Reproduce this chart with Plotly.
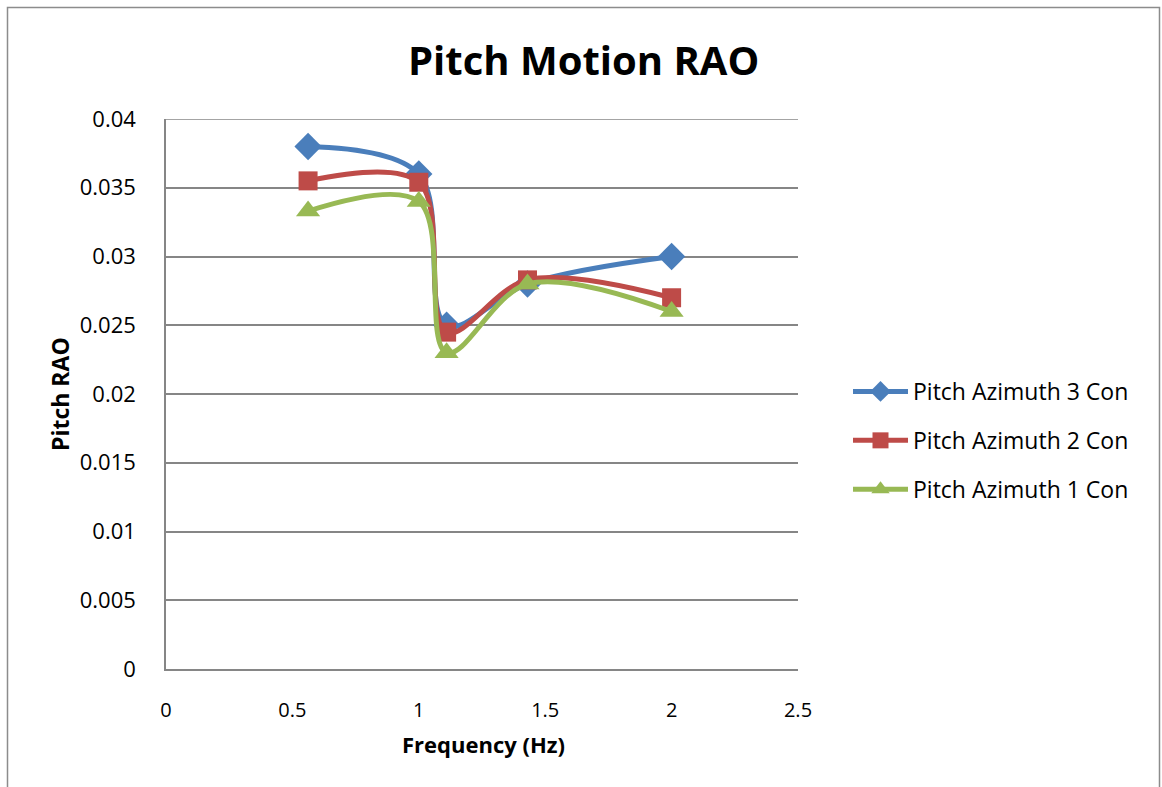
import plotly.graph_objects as go

# Frequencies (Hz) and pitch RAO values for each azimuth configuration
frequency = [0.562, 1.0, 1.11, 1.43, 2.0]
pitch_az3 = [0.0380, 0.0360, 0.0250, 0.0280, 0.0300]
pitch_az2 = [0.0355, 0.0354, 0.0245, 0.0283, 0.0270]
pitch_az1 = [0.0333, 0.0340, 0.0230, 0.0280, 0.0260]

series_names = ["Pitch Azimuth 3 Con", "Pitch Azimuth 2 Con", "Pitch Azimuth 1 Con"]
x_ticks = [0, 0.5, 1, 1.5, 2, 2.5]
y_ticks = [0, 0.005, 0.01, 0.015, 0.02, 0.025, 0.03, 0.035, 0.04]

W, H = 1162, 787
FONT = "Open Sans"
GRID = "#868686"

styles = [
    dict(color="#4A7EBB", symbol="diamond", size=21),
    dict(color="#BE4B48", symbol="square", size=19),
    dict(color="#98B954", symbol="triangle-up", size=21),
]

fig = go.Figure()
for i, (name, ys, st) in enumerate(zip(series_names, [pitch_az3, pitch_az2, pitch_az1], styles)):
    fig.add_trace(go.Scatter(
        x=frequency, y=ys, name=name, mode="lines+markers", legendgroup=f"g{i}",
        line=dict(color=st["color"], width=5, shape="spline", smoothing=1.0),
        marker=dict(color=st["color"], symbol=st["symbol"], size=st["size"],
                    line=dict(width=0)),
    ))

# plot area in pixels
px_l, px_r, px_t, px_b = 166, 798, 119, 669

fig.update_layout(
    width=W, height=H,
    margin=dict(l=0, r=0, t=0, b=0),
    paper_bgcolor="white", plot_bgcolor="white",
    font=dict(family=FONT, color="black"),
    showlegend=True,
    legend=dict(
        x=848 / W, y=1 - 370 / H, xanchor="left", yanchor="top",
        font=dict(family=FONT, size=23, color="black"),
        itemwidth=55, tracegroupgap=16, traceorder="grouped",
        bgcolor="rgba(0,0,0,0)", itemsizing="trace",
    ),
    xaxis=dict(
        domain=[px_l / W, px_r / W], range=[0, 2.5],
        tickvals=x_ticks, ticktext=[f"{v:g}" for v in x_ticks],
        showgrid=False, zeroline=False,
        showline=True, linecolor=GRID, linewidth=1.5,
        ticks="", ticklabelstandoff=22,
        tickfont=dict(family=FONT, size=20, color="black"),
        automargin=False,
    ),
    yaxis=dict(
        domain=[1 - px_b / H, 1 - px_t / H], range=[0, 0.04],
        tickvals=y_ticks, ticktext=[f"{v:g}" for v in y_ticks],
        showgrid=True, gridcolor=GRID, gridwidth=1.5, zeroline=False,
        showline=True, linecolor=GRID, linewidth=1.5,
        ticks="", ticklabelstandoff=24,
        tickfont=dict(family=FONT, size=22, color="black"),
        automargin=False,
    ),
    annotations=[
        dict(text="<b>Pitch Motion RAO</b>", x=583 / W, y=1 - 60 / H,
             xref="paper", yref="paper", showarrow=False,
             xanchor="center", yanchor="middle",
             font=dict(family=FONT, size=40, color="black")),
        dict(text="<b>Frequency (Hz)</b>", x=483 / W, y=1 - 744 / H,
             xref="paper", yref="paper", showarrow=False,
             xanchor="center", yanchor="middle",
             font=dict(family=FONT, size=22, color="black")),
        dict(text="<b>Pitch RAO</b>", x=60 / W, y=1 - 394 / H,
             xref="paper", yref="paper", showarrow=False, textangle=-90,
             xanchor="center", yanchor="middle",
             font=dict(family=FONT, size=23, color="black")),
    ],
    shapes=[
        # chart frame
        dict(type="rect", xref="paper", yref="paper",
             x0=7.5 / W, x1=1159.5 / W, y0=-0.05, y1=1 - 7.5 / H,
             line=dict(color="#8C8C8C", width=1.5), fillcolor="rgba(0,0,0,0)",
             layer="below"),
        # gridline at the top of the value range
        dict(type="line", xref="x domain", yref="y",
             x0=0, x1=1, y0=y_ticks[-1], y1=y_ticks[-1],
             line=dict(color=GRID, width=1.5), layer="below"),
    ],
)

fig.write_html("out.html")
